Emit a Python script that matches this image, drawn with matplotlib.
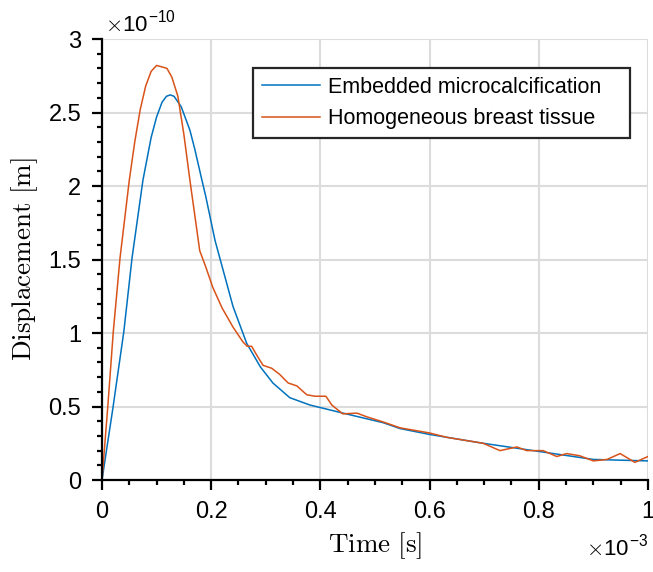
import numpy as np
import matplotlib.pyplot as plt
from matplotlib.ticker import MultipleLocator, FuncFormatter

# Tid i enheter av 1e-3 s, forskyvning i enheter av 1e-10 m
t_micro = [0, 0.02, 0.04, 0.055, 0.075, 0.09, 0.10, 0.11, 0.118, 0.125, 0.132,
           0.145, 0.161, 0.17, 0.183, 0.19, 0.207, 0.24, 0.265, 0.29, 0.313,
           0.344, 0.381, 0.436, 0.515, 0.546, 0.60, 0.698, 0.79, 0.90, 1.0]
d_micro = [0, 0.49, 1.01, 1.51, 2.04, 2.33, 2.47, 2.57, 2.61, 2.62, 2.61,
           2.54, 2.38, 2.25, 2.04, 1.93, 1.63, 1.18, 0.93, 0.77, 0.66,
           0.56, 0.51, 0.46, 0.39, 0.35, 0.31, 0.25, 0.20, 0.14, 0.13]

t_homo = [0, 0.0104, 0.0207, 0.033, 0.05, 0.06, 0.07, 0.08, 0.09, 0.10, 0.11,
          0.119, 0.128, 0.139, 0.15, 0.161, 0.179, 0.19, 0.203, 0.22, 0.24,
          0.258, 0.266, 0.274, 0.285, 0.295, 0.311, 0.325, 0.341, 0.357, 0.375,
          0.39, 0.403, 0.41, 0.421, 0.441, 0.467, 0.485, 0.515, 0.546, 0.60,
          0.632, 0.665, 0.698, 0.729, 0.76, 0.778, 0.808, 0.833, 0.851, 0.875,
          0.90, 0.925, 0.949, 0.976, 1.0]
d_homo = [0, 0.49, 1.01, 1.51, 2.04, 2.30, 2.52, 2.68, 2.78, 2.82, 2.81,
          2.80, 2.74, 2.61, 2.35, 2.04, 1.56, 1.45, 1.31, 1.17, 1.04,
          0.94, 0.91, 0.91, 0.84, 0.78, 0.76, 0.72, 0.66, 0.64, 0.58,
          0.57, 0.57, 0.57, 0.51, 0.45, 0.455, 0.43, 0.395, 0.355, 0.32,
          0.29, 0.27, 0.25, 0.20, 0.225, 0.20, 0.20, 0.16, 0.18, 0.165,
          0.13, 0.14, 0.18, 0.12, 0.16]

plt.rcParams['font.family'] = 'Liberation Sans'
plt.rcParams['mathtext.fontset'] = 'cm'

fig = plt.figure(figsize=(6.53, 5.72), dpi=100)
ax = fig.add_axes([0.1562, 0.1608, 0.8361, 0.771])

ax.plot(t_micro, d_micro, color='#0072BD', lw=1.1, label='Embedded microcalcification')
ax.plot(t_homo, d_homo, color='#D95319', lw=1.1, label='Homogeneous breast tissue')

ax.set_xlim(0, 1)
ax.set_ylim(0, 3)
ax.xaxis.set_major_locator(MultipleLocator(0.2))
ax.xaxis.set_minor_locator(MultipleLocator(0.05))
ax.yaxis.set_major_locator(MultipleLocator(0.5))
ax.yaxis.set_minor_locator(MultipleLocator(0.1))
fmt = FuncFormatter(lambda v, p: '%g' % round(v, 6))
ax.xaxis.set_major_formatter(fmt)
ax.yaxis.set_major_formatter(fmt)

ax.spines['top'].set_visible(False)
ax.spines['right'].set_visible(False)
ax.spines['left'].set_linewidth(1.6)
ax.spines['bottom'].set_linewidth(1.6)
ax.tick_params(which='major', direction='out', length=7, width=1.6, labelsize=17)
ax.tick_params(axis='x', which='major', pad=8)
ax.tick_params(axis='y', which='major', pad=8)
ax.tick_params(which='minor', direction='out', length=3.5, width=1.6)
ax.grid(True, which='major', color='#dcdcdc', lw=1.5)
ax.set_axisbelow(True)

ax.set_xlabel(r'$\mathrm{Time\ [s]}$', fontsize=19.5, labelpad=5)
ax.set_ylabel(r'$\mathrm{Displacement\ [m]}$', fontsize=19.5, labelpad=6)

ax.text(0.005, 1.003, r'$\times$10$^{\mathregular{-10}}$', transform=ax.transAxes,
        fontsize=16, ha='left', va='bottom')
ax.text(1.0, -0.125, r'$\times$10$^{\mathregular{-3}}$', transform=ax.transAxes,
        fontsize=16, ha='right', va='top')

leg = ax.legend(loc='upper left', bbox_to_anchor=(0.2766, 0.934, 0.6905, 0.0),
                mode='expand', fontsize=15.5,
                fancybox=False, framealpha=1, edgecolor='#262626',
                handlelength=2.7, handletextpad=0.4, borderpad=0.4,
                labelspacing=0.5, borderaxespad=0)
leg.get_frame().set_linewidth(1.6)

plt.savefig('out.png', dpi=100)
